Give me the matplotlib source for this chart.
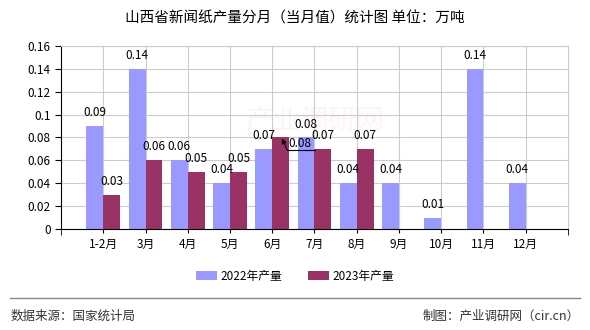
import matplotlib.pyplot as plt
import numpy as np

plt.rcParams['font.family'] = ['Noto Sans CJK SC', 'DejaVu Sans']

months = ['1-2月', '3月', '4月', '5月', '6月', '7月', '8月', '9月', '10月', '11月', '12月']
prod_2022 = [0.09, 0.14, 0.06, 0.04, 0.07, 0.08, 0.04, 0.04, 0.01, 0.14, 0.04]
prod_2023 = [0.03, 0.06, 0.05, 0.05, 0.08, 0.07, 0.07]

c22, c23 = '#9999FF', '#993366'
w = 0.4

fig = plt.figure(figsize=(5.9, 3.3), dpi=100)
ax = fig.add_axes([0.1034, 0.306, 0.8593, 0.555])

x = np.arange(len(months))
x23 = x[:len(prod_2023)]
b22 = ax.bar(x - w / 2, prod_2022, width=w, color=c22, zorder=2, label='2022年产量')
b23 = ax.bar(x23 + w / 2, prod_2023, width=w, color=c23, zorder=2, label='2023年产量')

# value labels above bars
for xi, v in zip(x - w / 2, prod_2022):
    ax.text(xi, v + 0.006, f'{v:.2f}', ha='center', va='bottom', fontsize=8.5, zorder=3)
for i, (xi, v) in enumerate(zip(x23 + w / 2, prod_2023)):
    if i == 4:
        # crowded spot: label pushed aside on a leader line
        ly = v - 0.0107
        ax.annotate('', xy=(xi + 0.03, v - 0.001), xytext=(xi + 0.15, ly), zorder=4,
                    arrowprops=dict(arrowstyle='-|>', color='black', lw=0.8,
                                    shrinkA=0, shrinkB=0, mutation_scale=7))
        ax.plot([xi + 0.15, xi + 0.81], [ly, ly], color='black', lw=0.8, zorder=4)
        ax.text(xi + 0.46, ly, f'{v:.2f}', ha='center', va='bottom', fontsize=8.5, zorder=4)
    else:
        ax.text(xi, v + 0.006, f'{v:.2f}', ha='center', va='bottom', fontsize=8.5, zorder=3)

ax.set_xlim(-1, len(months))
ax.set_ylim(0, 0.16)
yt = np.arange(0, 0.161, 0.02)
ax.set_yticks(yt)
ax.set_yticklabels(['0' if t == 0 else f'{t:.2f}'.rstrip('0') for t in yt], fontsize=8.5)
ax.set_xticks(x)
ax.set_xticklabels(months, fontsize=8.5)
ax.set_xticks(np.arange(-1, len(months) + 1), minor=True)
ax.tick_params(axis='x', which='major', length=3)
ax.tick_params(axis='x', which='minor', length=4)
ax.tick_params(axis='y', length=4)

ax.grid(True, which='major', color='#cccccc', lw=0.8, zorder=0)
ax.set_axisbelow(True)
for s in ['top', 'right']:
    ax.spines[s].set_color('#cccccc')
for s in ['left', 'bottom']:
    ax.spines[s].set_color('black')

# faint watermark
ax.text(5.0, 0.095, '产业调研网', fontsize=20, color='#e05050', alpha=0.06,
        ha='center', va='center', zorder=1)

fig.text(0.5, 0.945, '山西省新闻纸产量分月（当月值）统计图 单位：万吨', ha='center', va='center', fontsize=10.5)

fig.legend(handles=[b22, b23], loc='center', bbox_to_anchor=(0.5, 0.163), ncol=2,
           frameon=False, fontsize=8.5, handlelength=1.8, handleheight=0.8, columnspacing=2.2,
           handletextpad=0.3)

fig.add_artist(plt.Line2D([0.017, 0.983], [0.097, 0.097], color='#888888', lw=1))
fig.text(0.017, 0.042, '数据来源：国家统计局', ha='left', va='center', fontsize=9, color='#333333')
fig.text(0.983, 0.042, '制图：产业调研网（cir.cn）', ha='right', va='center', fontsize=9, color='#333333')

fig.savefig('out.png', dpi=100)
